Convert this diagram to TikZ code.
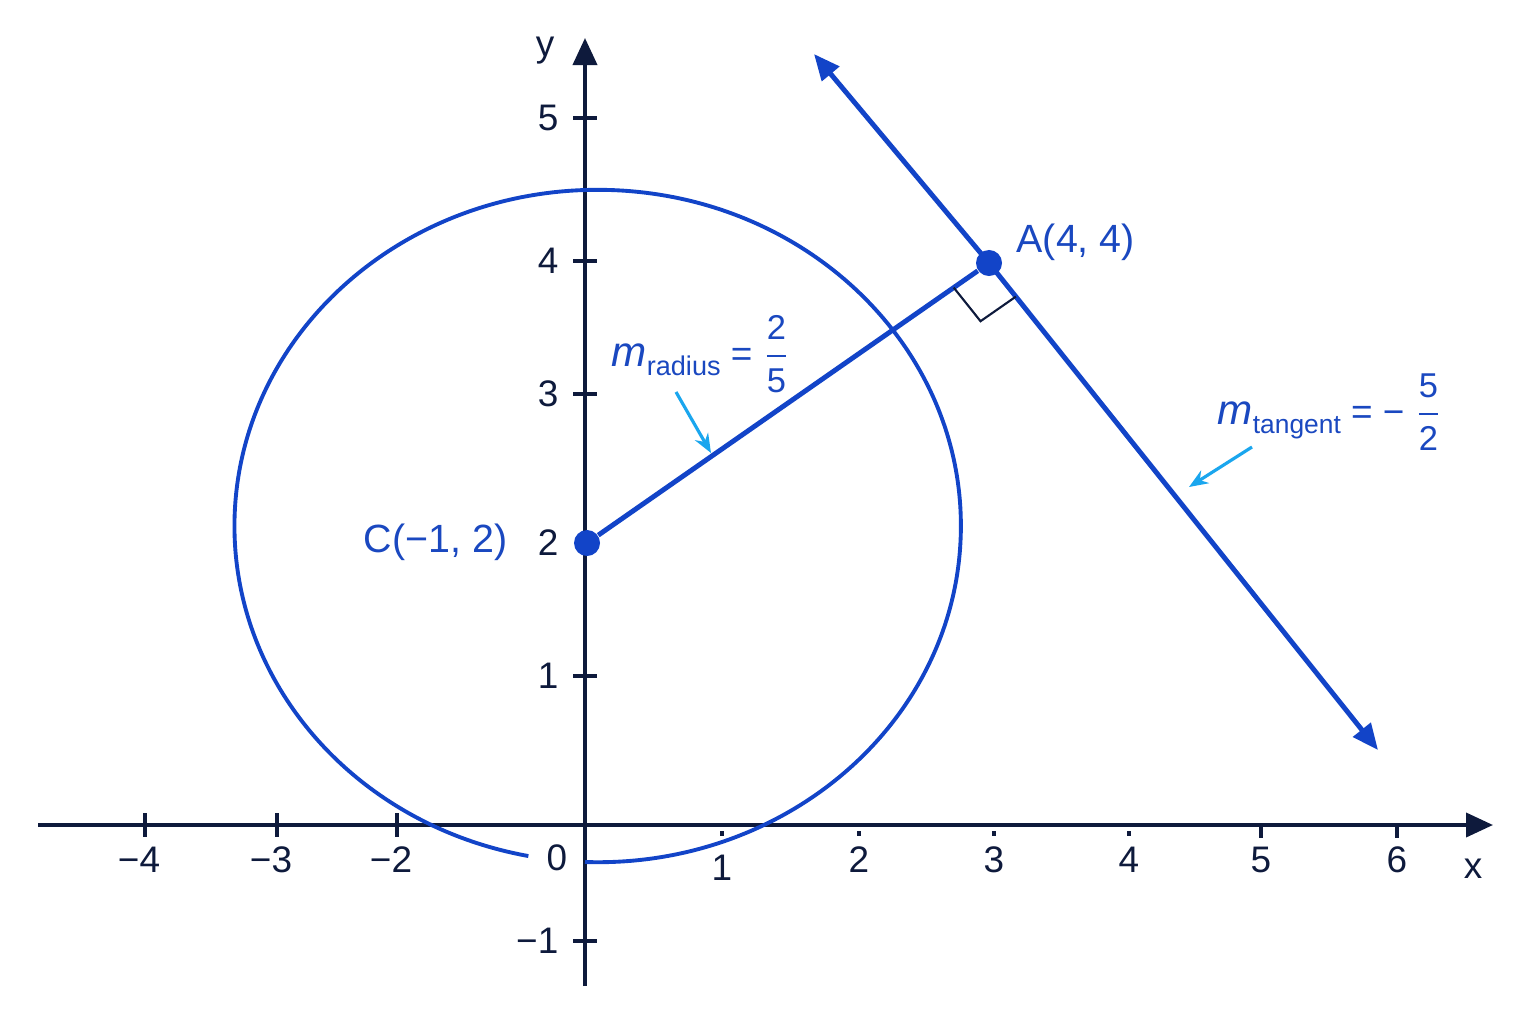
\documentclass[tikz,border=0pt]{standalone}
\usepackage{fontspec}
\setmainfont{Liberation Sans}
\usepackage{amsmath}
\usetikzlibrary{arrows.meta,calc,positioning}

\definecolor{axisnavy}{HTML}{0E1A3C}
\definecolor{lineblue}{HTML}{1244C8}
\definecolor{textblue}{HTML}{1A48C0}
\definecolor{pointerblue}{HTML}{1AA6EE}

\begin{document}
\begin{tikzpicture}[x=0.01cm, y=-0.01cm,
        axis/.style={draw=axisnavy, line width=1.1pt, -{Triangle[length=0.27cm, width=0.24cm]}},
        tick/.style={draw=axisnavy, line width=0.9pt},
        ticklabel/.style={text=axisnavy, font=\fontsize{10.5}{12}\selectfont, inner sep=0pt},
        curve/.style={draw=lineblue, line width=1.1pt},
        radiusline/.style={draw=lineblue, line width=1.4pt},
        tangentline/.style={draw=lineblue, line width=1.4pt, line join=round,
            {Triangle[length=0.26cm, width=0.22cm]}-{Triangle[length=0.26cm, width=0.22cm]}},
        dot/.style={circle, fill=lineblue, inner sep=0pt, minimum size=0.26cm},
        ptlabel/.style={text=textblue, font=\fontsize{11.2}{13}\selectfont, inner sep=0pt},
        slopelabel/.style={text=textblue, font=\fontsize{10.5}{12}\selectfont, inner sep=0pt},
        pointer/.style={draw=pointerblue, line width=0.9pt, -{Stealth[length=0.19cm, width=0.15cm]}},
        rightangle/.style={draw=axisnavy, line width=0.6pt}]

    \useasboundingbox[fill=white] (0,0) rectangle (1536,1024);

    % axes
    \coordinate (xl) at (38,825);
    \coordinate (xr) at (1493,825);
    \coordinate (yb) at (585,986);
    \coordinate (yt) at (585,38);
    \draw[axis] (xl) -- (xr);
    \draw[axis] (yb) -- (yt);
    \node[ticklabel, anchor=base] (xname) at (1473,878) {x};
    \node[ticklabel, anchor=base] (yname) at (545,56) {y};

    % ticks on x
    \foreach \px/\lab in {145/{−4},277/{−3},397/{−2}} {
        \draw[tick] (\px,813) -- (\px,837);
        \node[ticklabel, anchor=base] (xt\px) at (\px-6,872) {\lab};
    }
    \foreach \px/\lab in {859/2,994/3,1129/4} {
        \draw[tick] (\px,831) -- (\px,836);
        \node[ticklabel, anchor=base] (xt\px) at (\px,872) {\lab};
    }
    \draw[tick] (722,831) -- (722,836);
    \node[ticklabel, anchor=base] (xt722) at (722,880) {1};
    \foreach \px/\lab in {1261/5,1397/6} {
        \draw[tick] (\px,825) -- (\px,838);
        \node[ticklabel, anchor=base] (xt\px) at (\px,872) {\lab};
    }
    \node[ticklabel, anchor=base] (xt0) at (557,870) {0};

    % ticks on y
    \foreach \py/\lab in {118/5,261/4,394/3,676/1,941/{−1}} {
        \draw[tick] (573,\py) -- (597,\py);
        \node[ticklabel, anchor=east] (yt\py) at (559,\py) {\lab};
    }
    \node[ticklabel, anchor=east] (yt543) at (559,543) {2};

    % circle, open near the bottom
    \draw[curve] (585,862) arc[start angle=268, end angle=619, x radius=3.63cm, y radius=3.36cm];

    % points
    \node[dot] (C) at (587,543) {};
    \node[dot] (A) at (989,263) {};
    \coordinate (tA) at (814,54);
    \coordinate (tB) at (1378,750);

    \draw[radiusline] (C) -- (A);
    \draw[tangentline] (tA) -- (A.center) -- (tB);

    % right angle at A
    \coordinate (ra1) at ($(A)!0.43cm!(C)$);
    \coordinate (ra2) at ($(A)!0.43cm!(tB)$);
    \draw[rightangle] (ra1) -- ($(ra1)+(ra2)-(A)$) -- (ra2);

    \node[ptlabel, anchor=base west] (Alab) at (1016,252) {A(4, 4)};
    \node[ptlabel, anchor=base east] (Clab) at (508,552) {C(−1, 2)};

    % slopes
    \node[slopelabel, anchor=base west] (mrad) at (611,366)
        {{\fontsize{12}{14}\selectfont\itshape m}\raisebox{-2.6pt}{\fontsize{7.7}{8}\selectfont radius} = $\genfrac{}{}{0.6pt}{0}{\text{\fontsize{9.8}{10}\selectfont 2}}{\text{\fontsize{9.8}{10}\selectfont 5}}$};
    \node[slopelabel, anchor=base west] (mtan) at (1217,424)
        {{\fontsize{12}{14}\selectfont\itshape m}\raisebox{-2.6pt}{\fontsize{7.5}{8}\selectfont tangent} = − $\genfrac{}{}{0.6pt}{0}{\text{\fontsize{9.8}{10}\selectfont 5}}{\text{\fontsize{9.8}{10}\selectfont 2}}$};

    \coordinate (rfoot) at (676,392);
    \coordinate (rtip) at (711,453);
    \coordinate (tfoot) at (1252,447);
    \coordinate (ttip) at (1189,487);
    \draw[pointer] (rfoot) -- (rtip);
    \draw[pointer] (tfoot) -- (ttip);

\end{tikzpicture}
\end{document}
